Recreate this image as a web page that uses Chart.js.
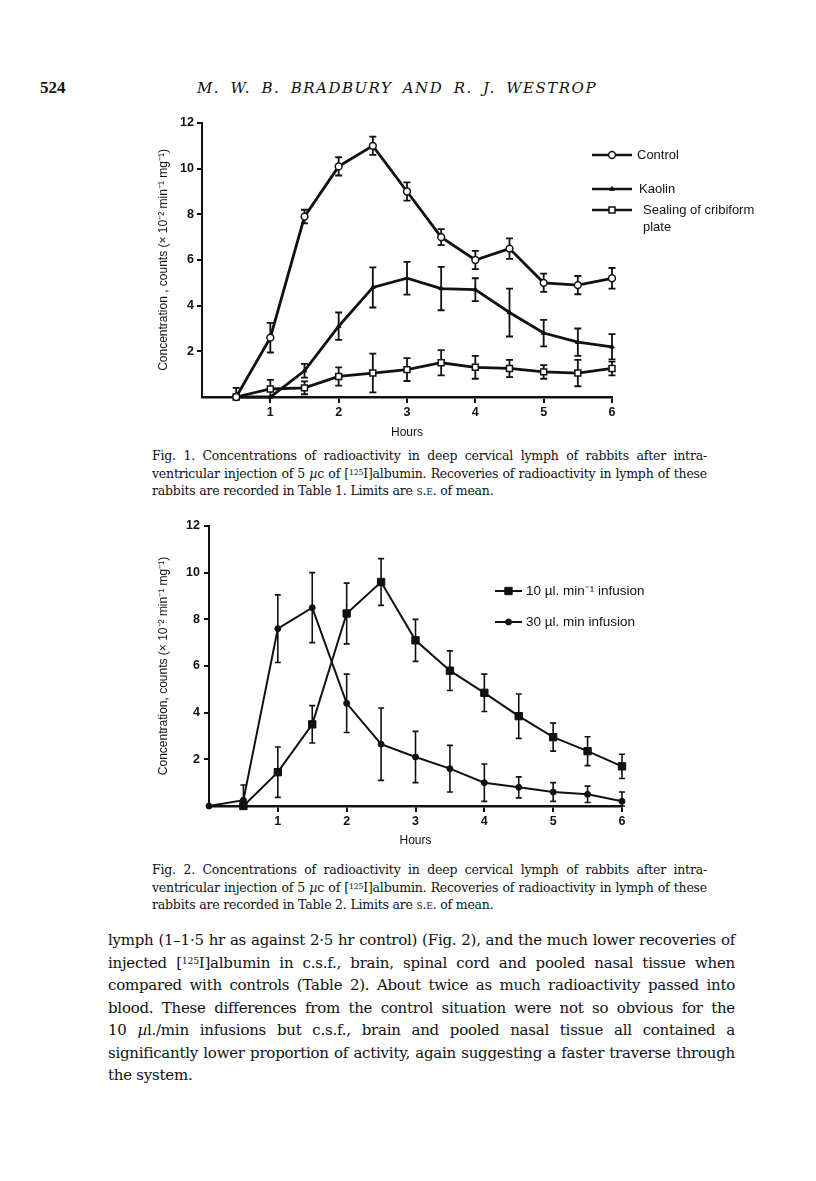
<!DOCTYPE html>
<html>
<head>
<meta charset="utf-8">
<script src="https://cdn.jsdelivr.net/npm/chart.js@4.4.1/dist/chart.umd.min.js"></script>
<style>
  body { margin: 0; width: 816px; height: 1181px; position: relative; background: #fff; color: #111; font-family: "DejaVu Serif", serif; overflow: hidden; }
  .abs { position: absolute; }
  .head { top: 78px; line-height: 20px; }
  .page { left: 40px; font-family: "Liberation Serif", serif; font-weight: bold; font-size: 17px; }
  .title { left: 197px; width: 400px; font-style: italic; font-size: 15px; }
  .cap { left: 152px; width: 555px; font-size: 12.5px; line-height: 17.5px; }
  .body { left: 108px; width: 627px; font-size: 15px; line-height: 22.5px; }
  .j { text-align: justify; text-align-last: justify; }
  sup { font-size: 0.62em; vertical-align: 0.45em; line-height: 0; }
  .sc { font-variant: small-caps; }
  canvas { position: absolute; }
</style>
</head>
<body>
<div class="abs head page">524</div>
<div class="abs head title fit"><div class="j">M. W. B. BRADBURY AND R. J. WESTROP</div></div>

<canvas id="fig1" width="660" height="340" style="left:140px;top:100px"></canvas>
<div class="abs cap fit" style="top:447px">
  <div class="j">Fig. 1. Concentrations of radioactivity in deep cervical lymph of rabbits after intra-</div>
  <div class="j">ventricular injection of 5 <i>µ</i>c of [<sup>125</sup>I]albumin. Recoveries of radioactivity in lymph of these</div>
  <div>rabbits are recorded in Table 1. Limits are <span class="sc">s.e.</span> of mean.</div>
</div>

<canvas id="fig2" width="660" height="345" style="left:140px;top:505px"></canvas>
<div class="abs cap fit" style="top:861px">
  <div class="j">Fig. 2. Concentrations of radioactivity in deep cervical lymph of rabbits after intra-</div>
  <div class="j">ventricular injection of 5 <i>µ</i>c of [<sup>125</sup>I]albumin. Recoveries of radioactivity in lymph of these</div>
  <div>rabbits are recorded in Table 2. Limits are <span class="sc">s.e.</span> of mean.</div>
</div>

<div class="abs body fit" style="top:929px">
  <div class="j">lymph (1–1·5 hr as against 2·5 hr control) (Fig. 2), and the much lower recoveries of</div>
  <div class="j">injected [<sup>125</sup>I]albumin in c.s.f., brain, spinal cord and pooled nasal tissue when</div>
  <div class="j">compared with controls (Table 2). About twice as much radioactivity passed into</div>
  <div class="j">blood. These differences from the control situation were not so obvious for the</div>
  <div class="j">10 <i>µ</i>l./min infusions but c.s.f., brain and pooled nasal tissue all contained a</div>
  <div class="j">significantly lower proportion of activity, again suggesting a faster traverse through</div>
  <div>the system.</div>
</div>

<script>
// squeeze or widen the serif text so every justified line fits like the print
document.querySelectorAll('.fit').forEach((box) => {
  const lines = Array.from(box.children);
  const target = box.clientWidth;
  let ls = 1.5;
  lines.filter((el) => el.classList.contains('j')).forEach((el) => {
    el.style.whiteSpace = 'nowrap';
    el.style.display = 'inline-block';
    const natural = el.getBoundingClientRect().width;
    const n = el.textContent.trim().length;
    ls = Math.min(ls, (target - natural - 6) / n);
    el.style.display = '';
    el.style.whiteSpace = '';
  });
  ls = Math.max(-1, ls);
  lines.forEach((el) => { el.style.letterSpacing = ls + 'px'; });
});

// tick labels
const hourTicks = [1, 2, 3, 4, 5, 6];
const concTicks = [2, 4, 6, 8, 10, 12];

// Fig. 1 -- sampled every half hour
const hours1 = [0.5, 1, 1.5, 2, 2.5, 3, 3.5, 4, 4.5, 5, 5.5, 6];
const control = [0, 2.6, 7.9, 10.1, 11.0, 9.0, 7.0, 6.0, 6.5, 5.0, 4.9, 5.2];
const controlSE = [0.4, 0.65, 0.3, 0.4, 0.4, 0.4, 0.35, 0.4, 0.45, 0.4, 0.4, 0.45];
const kaolin = [0, 0, 1.15, 3.1, 4.8, 5.2, 4.75, 4.7, 3.7, 2.8, 2.4, 2.2];
const kaolinSE = [0, 0, 0.3, 0.6, 0.88, 0.72, 0.95, 0.5, 1.05, 0.58, 0.6, 0.55];
const sealing = [0, 0.35, 0.4, 0.9, 1.05, 1.2, 1.5, 1.3, 1.25, 1.1, 1.05, 1.25];
const sealingSE = [0, 0.4, 0.28, 0.4, 0.85, 0.5, 0.55, 0.5, 0.38, 0.3, 0.58, 0.3];

// Fig. 2
const hours10 = [0.5, 1, 1.5, 2, 2.5, 3, 3.5, 4, 4.5, 5, 5.5, 6];
const infusion10 = [0, 1.45, 3.5, 8.25, 9.6, 7.1, 5.8, 4.85, 3.85, 2.95, 2.35, 1.7];
const infusion10SE = [0, 1.08, 0.8, 1.3, 1.0, 0.9, 0.85, 0.8, 0.95, 0.6, 0.62, 0.52];
const hours30 = [0, 0.5, 1, 1.5, 2, 2.5, 3, 3.5, 4, 4.5, 5, 5.5, 6];
const infusion30 = [0, 0.25, 7.6, 8.5, 4.4, 2.65, 2.1, 1.6, 1.0, 0.8, 0.6, 0.5, 0.2];
const infusion30SE = [0, 0.65, 1.45, 1.5, 1.25, 1.55, 1.1, 1.0, 0.8, 0.45, 0.4, 0.35, 0.4];

const ink = '#111';
const sans = 'Liberation Sans, Arial, sans-serif';

function points(xs, ys) {
  return xs.map((x, i) => ({ x, y: ys[i] }));
}

// vertical S.E. bars, drawn under the lines and markers
const errorBars = {
  id: 'errorBars',
  beforeDatasetsDraw(chart, args, opts) {
    const { ctx } = chart;
    const xs = chart.scales.x;
    const ys = chart.scales.y;
    ctx.save();
    ctx.strokeStyle = ink;
    ctx.lineWidth = opts.width;
    chart.data.datasets.forEach((ds) => {
      if (!ds.errors) return;
      ds.data.forEach((p, i) => {
        const e = ds.errors[i];
        if (!e) return;
        const x = xs.getPixelForValue(p.x);
        const top = ys.getPixelForValue(p.y + e);
        const bot = ys.getPixelForValue(Math.max(0, p.y - e));
        ctx.beginPath();
        ctx.moveTo(x, top);
        ctx.lineTo(x, bot);
        ctx.moveTo(x - opts.cap, top);
        ctx.lineTo(x + opts.cap, top);
        ctx.moveTo(x - opts.cap, bot);
        ctx.lineTo(x + opts.cap, bot);
        ctx.stroke();
      });
    });
    ctx.restore();
  }
};

// key drawn beside the plot like the printed figure
const keyPlugin = {
  id: 'key',
  afterDraw(chart, args, opts) {
    const { ctx } = chart;
    ctx.save();
    opts.rows.forEach((row) => {
      const ds = chart.data.datasets[row.dataset];
      ctx.strokeStyle = ink;
      ctx.lineWidth = opts.lineWidth;
      ctx.beginPath();
      ctx.moveTo(opts.x0, row.y);
      ctx.lineTo(opts.x1, row.y);
      ctx.stroke();
      ctx.fillStyle = ds.pointBackgroundColor;
      ctx.lineWidth = ds.pointBorderWidth;
      Chart.helpers.drawPoint(ctx, {
        pointStyle: ds.pointStyle,
        radius: ds.pointRadius,
        borderWidth: ds.pointBorderWidth,
        rotation: 0
      }, (opts.x0 + opts.x1) / 2, row.y);
      ctx.fillStyle = ink;
      ctx.font = opts.font;
      ctx.textBaseline = 'middle';
      ds.label.split('\n').forEach((t, k) => {
        ctx.fillText(t, row.tx, row.y + k * 17);
      });
    });
    ctx.restore();
  }
};

function makeChart(id, datasets, cfg) {
  return new Chart(document.getElementById(id), {
    type: 'line',
    data: { datasets },
    options: {
      responsive: false,
      animation: false,
      devicePixelRatio: 1,
      layout: { padding: { top: cfg.padTop, right: cfg.padRight, left: 0, bottom: 0 } },
      plugins: {
        legend: { display: false },
        tooltip: { enabled: false },
        errorBars: cfg.errorBars,
        key: cfg.key
      },
      scales: {
        x: {
          type: 'linear',
          min: 0,
          max: 6,
          afterBuildTicks: (s) => { s.ticks = hourTicks.map((v) => ({ value: v })); },
          afterFit: (s) => { s.height = cfg.xHeight; },
          grid: { drawOnChartArea: false, drawTicks: true, tickLength: 6, lineWidth: 2, color: ink },
          border: { color: ink, width: 2.5 },
          ticks: { color: ink, font: { family: sans, size: 12.5, weight: 'bold' }, padding: cfg.xTickPad, maxRotation: 0 },
          title: { display: true, text: 'Hours', color: ink, font: { family: sans, size: 12 }, padding: { top: 0, bottom: cfg.xTitlePad } }
        },
        y: {
          min: 0,
          max: 12,
          afterBuildTicks: (s) => { s.ticks = concTicks.map((v) => ({ value: v })); },
          afterFit: (s) => { s.width = cfg.yWidth; },
          grid: { drawOnChartArea: false, drawTicks: true, tickLength: 5, lineWidth: 2, color: ink },
          border: { color: ink, width: 2 },
          ticks: { color: ink, font: { family: sans, size: 12.5, weight: 'bold' }, padding: cfg.yTickPad },
          title: { display: true, text: cfg.yTitle, color: ink, font: { family: sans, size: 12 }, padding: { top: 16, bottom: 0 } }
        }
      }
    },
    plugins: [errorBars, keyPlugin]
  });
}

makeChart('fig1', [
  {
    label: 'Control',
    data: points(hours1, control),
    errors: controlSE,
    borderColor: ink, borderWidth: 2.8, clip: false,
    pointStyle: 'circle', pointRadius: 3.4, pointBackgroundColor: '#fff', pointBorderColor: ink, pointBorderWidth: 1.5
  },
  {
    label: 'Kaolin',
    data: points(hours1, kaolin),
    errors: kaolinSE,
    borderColor: ink, borderWidth: 2.8, clip: false,
    pointStyle: 'triangle', pointRadius: 2.6, pointBackgroundColor: ink, pointBorderColor: ink, pointBorderWidth: 1
  },
  {
    label: 'Sealing of cribiform\nplate',
    data: points(hours1, sealing),
    errors: sealingSE,
    borderColor: ink, borderWidth: 2.8, clip: false,
    pointStyle: 'rect', pointRadius: 4.2, pointBackgroundColor: '#fff', pointBorderColor: ink, pointBorderWidth: 1.5
  }
], {
  padTop: 23, padRight: 188, xHeight: 43, yWidth: 62,
  xTickPad: 2, xTitlePad: 0, yTickPad: 3,
  yTitle: 'Concentration , counts (× 10⁻² min⁻¹ mg⁻¹)',
  errorBars: { width: 1.8, cap: 3.5 },
  key: {
    x0: 452, x1: 492, lineWidth: 2.6, font: '13px ' + sans,
    rows: [
      { dataset: 0, y: 55, tx: 497 },
      { dataset: 1, y: 89, tx: 499 },
      { dataset: 2, y: 110, tx: 503 }
    ]
  }
});

makeChart('fig2', [
  {
    label: '10 µl. min⁻¹ infusion',
    data: points(hours10, infusion10),
    errors: infusion10SE,
    borderColor: ink, borderWidth: 2, clip: false,
    pointStyle: 'rect', pointRadius: 5.2, pointBackgroundColor: ink, pointBorderColor: ink, pointBorderWidth: 1
  },
  {
    label: '30 µl. min infusion',
    data: points(hours30, infusion30),
    errors: infusion30SE,
    borderColor: ink, borderWidth: 2, clip: false,
    pointStyle: 'circle', pointRadius: 3, pointBackgroundColor: ink, pointBorderColor: ink, pointBorderWidth: 1
  }
], {
  padTop: 21, padRight: 178, xHeight: 44, yWidth: 69,
  xTickPad: 2, xTitlePad: 2, yTickPad: 4,
  yTitle: 'Concentration, counts (× 10⁻² min⁻¹ mg⁻¹)',
  errorBars: { width: 1.6, cap: 3 },
  key: {
    x0: 355, x1: 382, lineWidth: 2, font: '13.5px ' + sans,
    rows: [
      { dataset: 0, y: 86, tx: 386 },
      { dataset: 1, y: 117, tx: 386 }
    ]
  }
});
</script>
</body>
</html>
